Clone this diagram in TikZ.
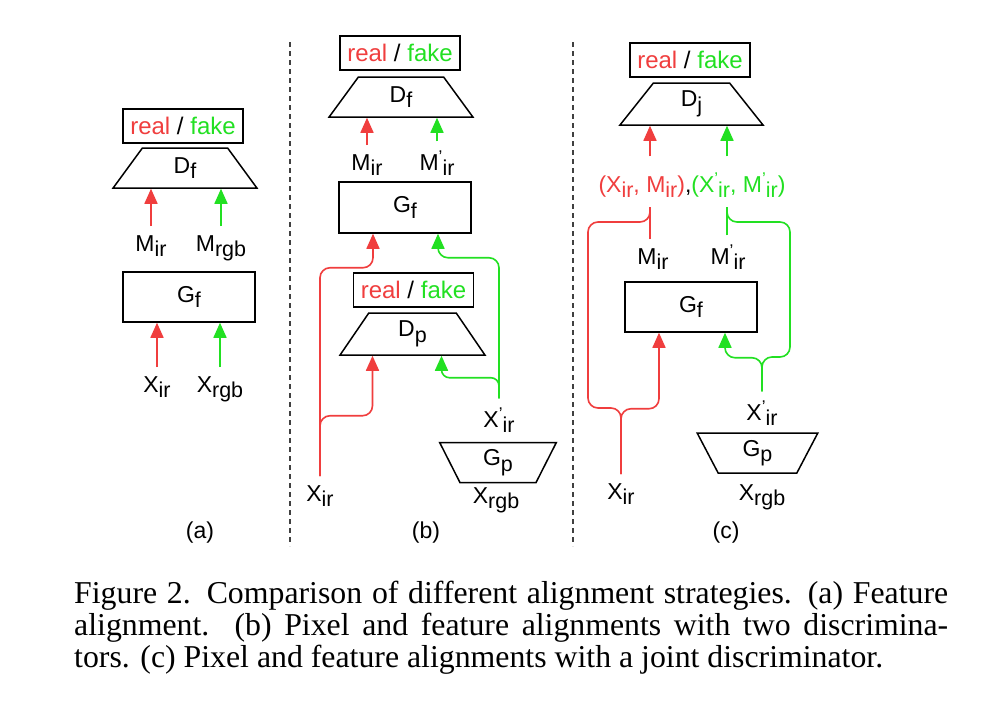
\documentclass[tikz,border=0pt]{standalone}
\usepackage{fontspec}
\setmainfont{Liberation Sans}
\newfontfamily\capfont{Liberation Serif}
\usetikzlibrary{shapes.geometric,arrows.meta}
\definecolor{rd}{RGB}{240,62,62}
\definecolor{gn}{RGB}{34,224,34}
\newcommand{\sbx}[1]{\raisebox{-5.5pt}{\fontsize{21.5}{22}\selectfont #1}}
\newcommand{\prm}{\raisebox{8pt}{\fontsize{17}{17}\selectfont '}}
\newcommand{\rfk}{\textcolor{rd}{real} / \textcolor{gn}{fake}}
\tikzset{
  lbl/.style={font=\fontsize{23}{26}\selectfont, inner sep=0pt, outer sep=9pt, anchor=base},
  rfbox/.style={draw, line width=1.5pt, inner sep=0pt, minimum width=120pt, minimum height=34pt, font=\fontsize{24}{27}\selectfont},
  gbox/.style={draw, line width=1.5pt, inner sep=0pt, minimum width=132pt, minimum height=50pt, font=\fontsize{23}{26}\selectfont},
  trap/.style={draw, line width=1.5pt, trapezium, trapezium angle=70, trapezium stretches=true, inner sep=0pt, minimum height=40pt, font=\fontsize{23}{26}\selectfont},
  invtrap/.style={trap, trapezium angle=73, shape border rotate=180},
  rl/.style={draw=rd, line width=1.6pt},
  gl/.style={draw=gn, line width=1.6pt},
  ra/.style={rl, -{Triangle[length=15pt,width=13pt]}},
  ga/.style={gl, -{Triangle[length=15pt,width=13pt]}},
  sepline/.style={dash pattern=on 5pt off 4pt, line width=1.3pt, draw=black!75},
  capline/.style={font=\capfont\fontsize{31.8}{32}\selectfont, inner sep=0pt, anchor=base west},
  plabel/.style={font=\fontsize{23}{26}\selectfont, inner sep=0pt}
}
\begin{document}
\begin{tikzpicture}[x=1pt,y=-1pt]
\useasboundingbox (0,0) rectangle (986,728);
\fill[white] (0,0) rectangle (986,728);

% separators
\coordinate (s1a) at (290,42);
\coordinate (s1b) at (290,546);
\coordinate (s2a) at (573,42);
\coordinate (s2b) at (573,546);
\draw[sepline] (s1a) -- (s1b);
\draw[sepline] (s2a) -- (s2b);

% ---------------- (a)
\node[rfbox] (rfa) at (183,126) {\rfk};
\node[trap, minimum width=144pt] (dfa) at (185,168) {D\sbx{f}};
\node[lbl] (mira) at (151,251) {M\sbx{ir}};
\node[lbl] (mrgba) at (221,251) {M\sbx{rgb}};
\node[gbox] (gfa) at (189,297) {G\sbx{f}};
\node[lbl] (xira) at (157,392) {X\sbx{ir}};
\node[lbl] (xrgba) at (220,392) {X\sbx{rgb}};
\node[plabel] (pa) at (200,533) {(a)};
\draw[ra] (mira) -- (mira |- dfa.south);
\draw[ga] (mrgba) -- (mrgba |- dfa.south);
\draw[ra] (xira) -- (xira |- gfa.south);
\draw[ga] (xrgba) -- (xrgba |- gfa.south);

% ---------------- (b)
\node[rfbox] (rfb1) at (400,53) {\rfk};
\node[trap, minimum width=144pt] (dfb) at (401,97) {D\sbx{f}};
\node[lbl] (mirb) at (367,170) {M\sbx{ir}};
\node[lbl] (mpirb) at (437,170) {M\prm\sbx{ir}};
\node[gbox, minimum height=51pt] (gfb) at (405,207.5) {G\sbx{f}};
\node[rfbox] (rfb2) at (413.5,290) {\rfk};
\node[trap, minimum width=145pt, minimum height=42pt] (dpb) at (412.5,334) {D\sbx{p}};
\node[lbl] (xirb) at (320,501) {X\sbx{ir}};
\node[lbl] (xpirb) at (499,427) {X\prm\sbx{ir}};
\node[invtrap, minimum width=117pt] (gpb) at (498,462.5) {G\sbx{p}};
\node[lbl] (xrgbb) at (496,503) {X\sbx{rgb}};
\node[plabel] (pb) at (426,533) {(b)};
\draw[ra] (mirb) -- (mirb |- dfb.south);
\draw[ga] (mpirb) -- (mpirb |- dfb.south);
\coordinate (gfbR) at ([xshift=-32pt]gfb.south);
\coordinate (gfbG) at ([xshift=33pt]gfb.south);
\coordinate (dpbR) at ([xshift=-40pt]dpb.south);
\coordinate (dpbG) at ([xshift=29pt]dpb.south);
\draw[ra, rounded corners=10pt] (xirb.north) |- ([yshift=-34pt]gfbR) -- (gfbR);
\draw[ra, rounded corners=10pt] (xirb.north) |- ([yshift=-60pt]dpbR) -- (dpbR);
\draw[ga, rounded corners=10pt] (xpirb.north) |- ([yshift=-24pt]gfbG) -- (gfbG);
\draw[ga, rounded corners=8pt] (xpirb.north) |- ([yshift=-22pt]dpbG) -- (dpbG);

% ---------------- (c)
\node[rfbox] (rfc) at (690,60) {\rfk};
\node[trap, minimum width=143pt, minimum height=42pt] (djc) at (691.5,104) {D\sbx{j}};
\node[lbl] (xmc) at (692,192) {\textcolor{rd}{(X\sbx{ir}, M\sbx{ir})},\textcolor{gn}{(X\prm\sbx{ir}, M\prm\sbx{ir})}};
\node[lbl] (mirc) at (653,264) {M\sbx{ir}};
\node[lbl] (mpirc) at (728,264) {M\prm\sbx{ir}};
\node[gbox] (gfc) at (691,307) {G\sbx{f}};
\node[lbl] (xpirc) at (762,420) {X\prm\sbx{ir}};
\node[invtrap, minimum width=121pt] (gpc) at (757.5,453) {G\sbx{p}};
\node[lbl] (xirc) at (621,499) {X\sbx{ir}};
\node[lbl] (xrgbc) at (762,500) {X\sbx{rgb}};
\node[plabel] (pc) at (726,533) {(c)};

\coordinate (cR1) at ([xshift=-42pt,yshift=7pt]xmc.north);
\coordinate (cG1) at ([xshift=35pt,yshift=7pt]xmc.north);
\draw[ra] (cR1) -- (cR1 |- djc.south);
\draw[ga] (cG1) -- (cG1 |- djc.south);

\coordinate (tipR) at (650,207);
\coordinate (tipG) at (727,207);
\coordinate (braceRL) at (588,408);
\coordinate (braceRT) at (588,222);
\coordinate (braceGL) at (790,357);
\coordinate (braceGT) at (790,222);
\draw[rl] (mirc.north -| tipR) -- (tipR);
\draw[gl] (mpirc.north -| tipG) -- (tipG);
\draw[rl, rounded corners=10pt] (xirc.north) |- (braceRL) -- (braceRT) -| (tipR);
\draw[gl, rounded corners=10pt] (xpirc.north) |- (braceGL) -- (braceGT) -| (tipG);
\coordinate (gfcR) at ([xshift=-32pt]gfc.south);
\coordinate (gfcG) at ([xshift=34pt]gfc.south);
\draw[ra, rounded corners=10pt] (xirc.north) |- ([yshift=-76pt]gfcR) -- (gfcR);
\draw[ga, rounded corners=10pt] (xpirc.north) |- ([yshift=-25pt]gfcG) -- (gfcG);

% ---------------- caption
\node[capline] (cap1) at (74,603) {\makebox[874pt][s]{Figure 2. Comparison of different alignment strategies. (a) Feature}};
\node[capline] (cap2) at (74,635) {\makebox[874pt][s]{alignment.\ \ (b) Pixel and feature alignments with two discrimina-}};
\node[capline] (cap3) at (74,667) {tors. (c) Pixel and feature alignments with a joint discriminator.};
\end{tikzpicture}
\end{document}
